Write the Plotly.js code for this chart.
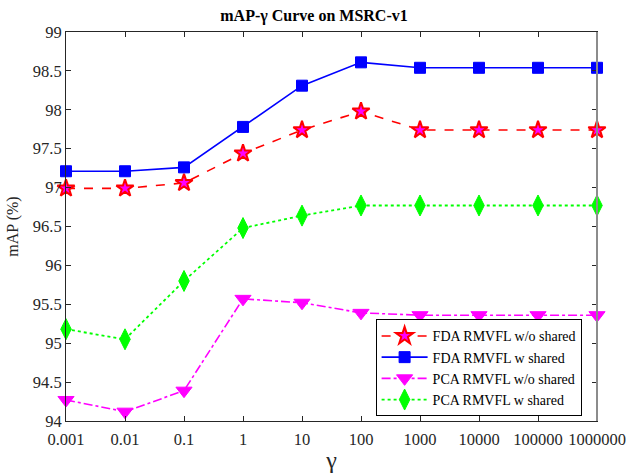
<!DOCTYPE html>
<html>
<head>
<meta charset="utf-8">
<script src="https://cdn.plot.ly/plotly-3.0.1.min.js"></script>
<style>html,body{margin:0;padding:0;background:#fff;}#chart{width:628px;height:473px;}</style>
</head>
<body>
<div id="chart"></div>
<script>
var gammaLabels = ['0.001','0.01','0.1','1','10','100','1000','10000','100000','1000000'];
var fdaWo  = [96.99, 96.99, 97.06, 97.44, 97.74, 97.98, 97.74, 97.74, 97.74, 97.74];
var fdaW   = [97.21, 97.21, 97.26, 97.78, 98.31, 98.61, 98.54, 98.54, 98.54, 98.54];
var pcaWo  = [94.27, 94.12, 94.39, 95.57, 95.52, 95.39, 95.36, 95.36, 95.36, 95.36];
var pcaW   = [95.18, 95.05, 95.80, 96.48, 96.64, 96.77, 96.77, 96.77, 96.77, 96.77];
var seriesNames = ['FDA RMVFL w/o shared','FDA RMVFL w shared','PCA RMVFL w/o shared','PCA RMVFL w shared'];
var yTicks = [94, 94.5, 95, 95.5, 96, 96.5, 97, 97.5, 98, 98.5, 99];

var xs = gammaLabels.map(function(_, i){ return i; });
var font = "'Liberation Serif', 'Times New Roman', serif";

var traces = [
  {x: xs, y: fdaWo, name: seriesNames[0], mode: 'lines+markers', cliponaxis: false,
   line: {color: '#ff0000', width: 1.6, dash: 'dash'},
   marker: {symbol: 'star', size: 13, color: '#ff00ff', line: {color: '#ff0000', width: 2}}},
  {x: xs, y: fdaW, name: seriesNames[1], mode: 'lines+markers', cliponaxis: false,
   line: {color: '#0000ff', width: 1.6, dash: 'solid'},
   marker: {symbol: 'square', size: 11, color: '#0000ff', line: {color: '#0000ff', width: 1}}},
  {x: xs, y: pcaWo, name: seriesNames[2], mode: 'lines+markers', cliponaxis: false,
   line: {color: '#ff00ff', width: 1.6, dash: 'dashdot'},
   marker: {symbol: 'triangle-down', size: 14, color: '#ff00ff', line: {color: '#ff00ff', width: 1}}},
  {x: xs, y: pcaW, name: seriesNames[3], mode: 'lines+markers', cliponaxis: false,
   line: {color: '#00ff00', width: 1.8, dash: 'dot'},
   marker: {symbol: 'diamond-tall', size: 15, color: '#00ff00', line: {color: '#00ff00', width: 1}}}
];

var layout = {
  width: 628, height: 473,
  margin: {l: 66, r: 31, t: 32, b: 52},
  paper_bgcolor: '#ffffff', plot_bgcolor: '#ffffff',
  font: {family: font, color: '#262626', size: 16},
  title: {text: '<b>mAP-γ Curve on MSRC-v1</b>', font: {family: font, size: 16, color: '#000'},
          x: 0.5, xanchor: 'center', y: 0.968, yanchor: 'middle'},
  xaxis: {range: [0, 9], tickmode: 'array', tickvals: xs, ticktext: gammaLabels,
          showgrid: false, zeroline: false, showline: true, linecolor: '#262626', linewidth: 1,
          mirror: 'ticks', ticks: 'inside', ticklen: 5, tickcolor: '#262626',
          ticklabelstandoff: 3,
          tickfont: {family: font, size: 16.5, color: '#262626'},
          title: {text: 'γ', font: {family: font, size: 24, color: '#262626'}, standoff: 6}},
  yaxis: {range: [94, 99], tickmode: 'array', tickvals: yTicks,
          ticktext: yTicks.map(function(v){ return String(v); }),
          showgrid: false, zeroline: false, showline: true, linecolor: '#262626', linewidth: 1,
          mirror: 'ticks', ticks: 'inside', ticklen: 5, tickcolor: '#262626',
          tickfont: {family: font, size: 16.5, color: '#262626'},
          title: {text: 'mAP (%)', font: {family: font, size: 16, color: '#262626'}, standoff: 10}},
  shapes: [
    {type: 'line', xref: 'paper', yref: 'paper', x0: 1, x1: 1, y0: 0, y1: 1,
     line: {color: '#8c8c8c', width: 2}}
  ],
  legend: {x: 0.971, y: 0.012, xanchor: 'right', yanchor: 'bottom',
           bgcolor: '#ffffff', bordercolor: '#000000', borderwidth: 1,
           font: {family: font, size: 14, color: '#000'}, itemwidth: 46,
           tracegroupgap: 0},
  showlegend: true
};

Plotly.newPlot('chart', traces, layout, {displayModeBar: false, staticPlot: true});
</script>
</body>
</html>
